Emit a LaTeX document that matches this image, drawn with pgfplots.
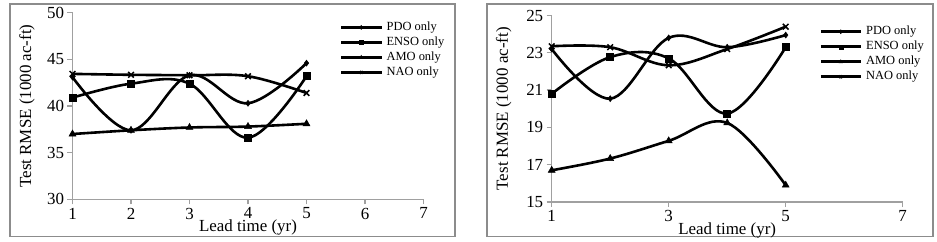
\documentclass[border=0pt]{standalone}
\usepackage{pgfplots}
\pgfplotsset{compat=1.18}
\usepackage{fontspec}
\setmainfont{Liberation Serif}
\definecolor{axgray}{RGB}{160,160,160}
\definecolor{framegray}{RGB}{140,140,140}
\pgfplotsset{
  panel/.style={
    scale only axis,
    width=351bp, height=186.5bp,
    xmin=1, xmax=7,
    axis lines*=left,
    axis line style={axgray, line width=1.2bp},
    tick style={axgray, line width=1.2bp},
    major tick length=5bp,
    tick align=outside,
    /pgf/number format/assume math mode=true,
    tick label style={font=\fontsize{17}{17}\selectfont},
    label style={font=\fontsize{17}{17}\selectfont},
    xlabel={Lead time (yr)},
    ylabel={Test RMSE (1000 ac-ft)},
    xlabel style={at={(axis description cs:0.5,0)}, anchor=center, inner sep=0pt, yshift=-28.5bp},
    clip=false,
    every axis plot/.append style={black, line width=2.6bp, smooth, tension=0.6},
    legend style={draw=none, fill=none, inner sep=0pt, anchor=north west,
      font=\fontsize{12.5}{12.5}\selectfont,
      nodes={inner sep=0pt, text height=9bp, text depth=3bp},
      row sep=3bp, cells={anchor=west},
      /tikz/every odd column/.append style={column sep=4bp}},
    legend image code/.code={
      \draw[mark repeat=2, mark phase=2, #1, black, line width=2.8bp, mark size=2bp]
        plot coordinates {(0bp,0bp) (20bp,0bp) (40bp,0bp)};},
  },
  pdo/.style={mark=diamond*, mark size=3bp, mark options={solid, line width=0.5bp}},
  enso/.style={mark=square*, mark size=3.5bp, mark options={solid, line width=0.5bp}},
  amo/.style={mark=triangle*, mark size=4bp, mark options={solid, line width=0.5bp}},
  nao/.style={mark=x, mark size=4bp, mark options={solid, line width=1.5bp}},
}
\begin{document}
\begin{tikzpicture}
\useasboundingbox (0,0) rectangle (937bp,242bp);
\draw[framegray, line width=1.5bp] (10bp,5.5bp) rectangle (455bp,238bp);
\draw[framegray, line width=1.5bp] (487bp,5.5bp) rectangle (933bp,238bp);

\begin{axis}[panel,
  at={(72.5bp,42.7bp)}, anchor=origin,
  ymin=30, ymax=50, ytick={30,35,40,45,50},
  xtick={1,2,3,4,5,6,7},
  ylabel style={at={(axis description cs:0,0.5)}, anchor=center, yshift=45.5bp},
  legend style={at={(0.761,0.955)}},
]
\addplot[pdo] coordinates {(1,43.1) (2,37.4) (3,43.3) (4,40.3) (5,44.6)};
\addlegendentry{PDO only}
\addplot[enso] coordinates {(1,40.9) (2,42.4) (3,42.4) (4,36.6) (5,43.2)};
\addlegendentry{ENSO only}
\addplot[amo] coordinates {(1,37.0) (2,37.4) (3,37.7) (4,37.8) (5,38.1)};
\addlegendentry{AMO only}
\addplot[nao] coordinates {(1,43.45) (2,43.35) (3,43.3) (4,43.2) (5,41.4)};
\addlegendentry{NAO only}
\end{axis}

\begin{axis}[panel,
  at={(551.7bp,40bp)}, anchor=origin,
  ymin=15, ymax=25, ytick={15,17,19,21,23,25},
  xtick={1,3,5,7},
  ylabel style={at={(axis description cs:0,0.5)}, anchor=center, yshift=48bp},
  legend style={at={(0.762,0.946)}},
]
\addplot[pdo] coordinates {(1,23.2) (2,20.54) (3,23.8) (4,23.3) (5,23.95)};
\addlegendentry{PDO only}
\addplot[enso] coordinates {(1,20.8) (2,22.77) (3,22.7) (4,19.74) (5,23.3)};
\addlegendentry{ENSO only}
\addplot[amo] coordinates {(1,16.7) (2,17.33) (3,18.28) (4,19.24) (5,15.9)};
\addlegendentry{AMO only}
\addplot[nao] coordinates {(1,23.35) (2,23.3) (3,22.33) (4,23.2) (5,24.4)};
\addlegendentry{NAO only}
\end{axis}
\end{tikzpicture}
\end{document}
